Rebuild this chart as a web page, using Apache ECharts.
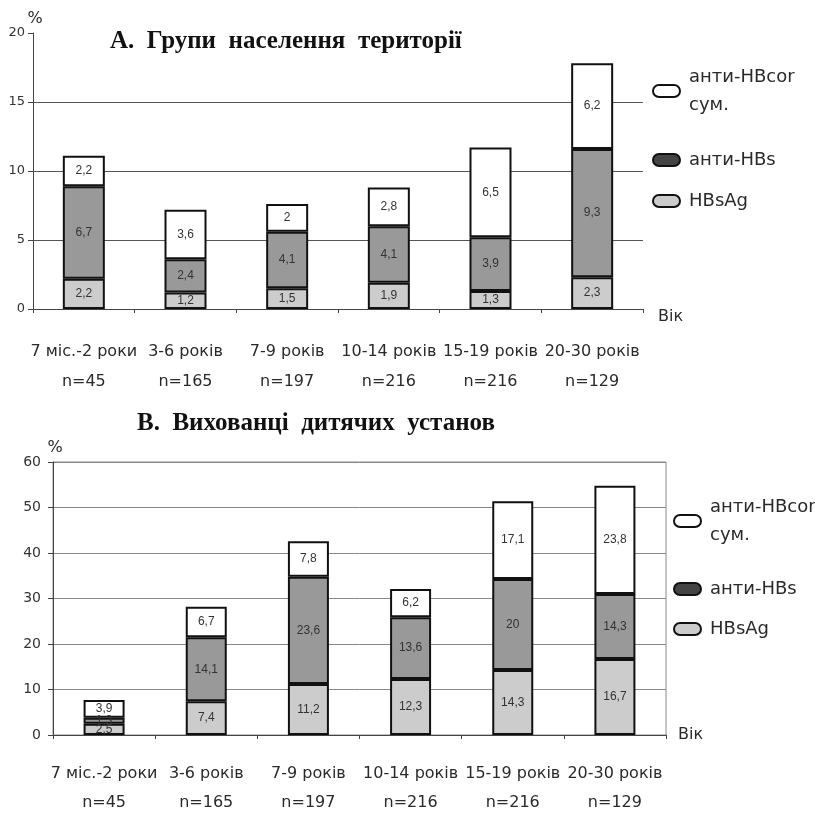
<!DOCTYPE html>
<html>
<head>
<meta charset="utf-8">
<script src="https://cdn.jsdelivr.net/npm/echarts@6/dist/echarts.min.js"></script>
<style>
html,body{margin:0;padding:0;background:#fff;}
#chart{width:815px;height:817px;}
</style>
</head>
<body>
<div id="chart"></div>
<script>
// ---- data ----
const categories = ['7 міс.-2 роки', '3-6 років', '7-9 років', '10-14 років', '15-19 років', '20-30 років'];
const sampleSizes = ['n=45', 'n=165', 'n=197', 'n=216', 'n=216', 'n=129'];
const seriesNames = ['HBsAg', 'анти-HBs', 'анти-HBcor сум.'];

// A. Групи населення території
const hbsagA   = [2.2, 1.2, 1.5, 1.9, 1.3, 2.3];
const antiHBsA = [6.7, 2.4, 4.1, 4.1, 3.9, 9.3];
const antiHBcA = [2.2, 3.6, 2, 2.8, 6.5, 6.2];

// B. Вихованці дитячих установ
const hbsagB   = [2.5, 7.4, 11.2, 12.3, 14.3, 16.7];
const antiHBsB = [1.3, 14.1, 23.6, 13.6, 20, 14.3];
const antiHBcB = [3.9, 6.7, 7.8, 6.2, 17.1, 23.8];

const titleA = 'А.  Групи  населення  території';
const titleB = 'В.  Вихованці  дитячих  установ';
const yTicksA = {min: 0, max: 20, interval: 5};
const yTicksB = {min: 0, max: 60, interval: 10};

// ---- chart ----
const FONT = 'DejaVu Sans';
const colors = ['#cccccc', '#999999', '#ffffff'];
const legendIconColors = ['#cccccc', '#444444', '#ffffff'];
const xLabels = categories.map((c, i) => c + '\n' + sampleSizes[i]);
const fmt = p => String(p.value).replace('.', ',');

function makeSeries(data, idx, gridIdx, barWidth) {
  return {
    name: seriesNames[idx],
    type: 'bar',
    stack: 'g' + gridIdx,
    xAxisIndex: gridIdx,
    yAxisIndex: gridIdx,
    barWidth: barWidth,
    data: data,
    itemStyle: {color: colors[idx], borderColor: '#111', borderWidth: 2},
    label: {show: true, position: 'inside', formatter: fmt, fontFamily: 'Liberation Sans', fontSize: 12, color: '#333'},
    emphasis: {disabled: true}
  };
}

const pill = 'path://M6,0 L21,0 A6,6 0 0 1 21,12 L6,12 A6,6 0 0 1 6,0 Z';
function makeLegend(idx, left, top, twoLine) {
  return {
    left: left, top: top,
    orient: 'vertical',
    data: [{name: seriesNames[idx], itemStyle: {color: legendIconColors[idx], borderColor: '#111', borderWidth: 2}}],
    icon: pill,
    itemWidth: 27, itemHeight: 12,
    selectedMode: false,
    formatter: n => n === 'анти-HBcor сум.' ? 'анти-HBcor\nсум.' : n,
    textStyle: twoLine
      ? {fontFamily: FONT, fontSize: 18, color: '#2a2a2a', lineHeight: 28, padding: [28, 0, 0, 4]}
      : {fontFamily: FONT, fontSize: 18, color: '#2a2a2a', lineHeight: 20, padding: [0, 0, 0, 4]}
  };
}

const chart = echarts.init(document.getElementById('chart'));
chart.setOption({
  animation: false,
  backgroundColor: '#fff',
  title: [
    {text: titleA, left: 105, top: 24, textStyle: {fontFamily: 'Liberation Serif', fontWeight: 'bold', fontSize: 25, color: '#111'}},
    {text: titleB, left: 132, top: 406, textStyle: {fontFamily: 'Liberation Serif', fontWeight: 'bold', fontSize: 25, color: '#111'}}
  ],
  legend: [
    makeLegend(2, 647, 44, true),
    makeLegend(1, 647, 145, false),
    makeLegend(0, 647, 186, false),
    makeLegend(2, 668, 474, true),
    makeLegend(1, 668, 574, false),
    makeLegend(0, 668, 614, false)
  ],
  grid: [
    {left: 33, right: 172, top: 33, bottom: 508},
    {left: 53, right: 149, top: 462, bottom: 76, show: true, borderColor: '#888', borderWidth: 1, backgroundColor: 'transparent'}
  ],
  xAxis: [
    {
      type: 'category', gridIndex: 0, data: xLabels,
      name: 'Вік', nameLocation: 'end', nameGap: 15,
      nameTextStyle: {fontFamily: FONT, fontSize: 16, color: '#2a2a2a', verticalAlign: 'top'},
      axisLine: {lineStyle: {color: '#444', width: 1}},
      axisTick: {show: true, length: 4, lineStyle: {color: '#444'}},
      axisLabel: {interval: 0, fontFamily: FONT, fontSize: 16, color: '#2a2a2a', lineHeight: 30, margin: 28}
    },
    {
      type: 'category', gridIndex: 1, data: xLabels,
      name: 'Вік', nameLocation: 'end', nameGap: 12,
      nameTextStyle: {fontFamily: FONT, fontSize: 16, color: '#2a2a2a', verticalAlign: 'middle', padding: [10, 0, 0, 0]},
      axisLine: {lineStyle: {color: '#444', width: 1}},
      axisTick: {show: true, length: 4, lineStyle: {color: '#444'}},
      axisLabel: {interval: 0, fontFamily: FONT, fontSize: 16, color: '#2a2a2a', lineHeight: 29, margin: 24}
    }
  ],
  yAxis: [
    {
      type: 'value', gridIndex: 0, min: yTicksA.min, max: yTicksA.max, interval: yTicksA.interval,
      name: '%', nameLocation: 'end', nameGap: 5,
      nameTextStyle: {fontFamily: FONT, fontSize: 16, color: '#2a2a2a', padding: [0, 0, 0, 4]},
      axisLine: {show: true, lineStyle: {color: '#444'}},
      axisTick: {show: true, length: 5, lineStyle: {color: '#444'}},
      axisLabel: {fontFamily: FONT, fontSize: 13, color: '#333', margin: 8},
      splitLine: {show: true, showMaxLine: false, lineStyle: {color: '#555', width: 1}}
    },
    {
      type: 'value', gridIndex: 1, min: yTicksB.min, max: yTicksB.max, interval: yTicksB.interval,
      name: '%', nameLocation: 'end', nameGap: 6,
      nameTextStyle: {fontFamily: FONT, fontSize: 16, color: '#2a2a2a', padding: [0, 0, 0, 4]},
      axisLine: {show: true, lineStyle: {color: '#444'}},
      axisTick: {show: true, length: 5, lineStyle: {color: '#444'}},
      axisLabel: {fontFamily: FONT, fontSize: 14, color: '#333', margin: 12},
      splitLine: {show: true, lineStyle: {color: '#888', width: 1}}
    }
  ],
  series: [
    makeSeries(hbsagA, 0, 0, 42),
    makeSeries(antiHBsA, 1, 0, 42),
    makeSeries(antiHBcA, 2, 0, 42),
    makeSeries(hbsagB, 0, 1, 41),
    makeSeries(antiHBsB, 1, 1, 41),
    makeSeries(antiHBcB, 2, 1, 41)
  ]
});
</script>
</body>
</html>
